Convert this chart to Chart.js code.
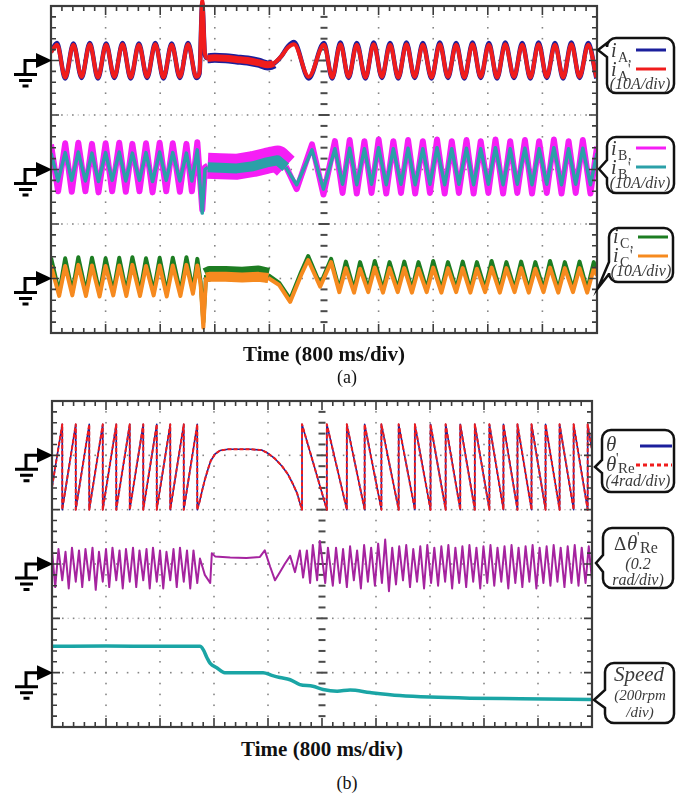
<!DOCTYPE html>
<html>
<head>
<meta charset="utf-8">
<script src="https://cdn.jsdelivr.net/npm/chart.js@4.4.1/dist/chart.umd.min.js"></script>
<style>
  body { margin: 0; background: #fff; width: 693px; height: 797px; position: relative; overflow: hidden; }
  canvas { position: absolute; left: 0; }
  .lbl { position: absolute; left: 0; text-align: center; white-space: nowrap; color: #111; font-family: "Liberation Serif", "Times New Roman", serif; }
</style>
</head>
<body>
<canvas id="scopeA" width="693" height="345" style="top:0"></canvas>
<canvas id="scopeB" width="693" height="345" style="top:390px"></canvas>
<div class="lbl" style="top:343px;width:648px;font-weight:bold;font-size:21px;line-height:22px">Time (800 ms/div)</div>
<div class="lbl" style="top:367px;width:694px;font-size:18px;line-height:20px">(a)</div>
<div class="lbl" style="top:738px;width:644px;font-weight:bold;font-size:21px;line-height:22px">Time (800 ms/div)</div>
<div class="lbl" style="top:773px;width:694px;font-size:18px;line-height:20px">(b)</div>
<script>
// time in divisions (800 ms/div)

// --- (a) phase A current, A ---
const tA = [0, 0.11, 0.26, 0.41, 0.56, 0.71, 0.86, 1.01, 1.16, 1.31, 1.46, 1.61, 1.76, 1.91, 2.06, 2.21, 2.36, 2.51, 2.66,
  2.72, 2.77, 2.82, 2.87, 3.0, 3.2, 3.4, 3.6, 3.8, 3.97, 4.08, 4.22, 4.34, 4.45, 4.72,
  5.00, 5.15, 5.30, 5.45, 5.60, 5.76, 5.91, 6.06, 6.21, 6.36, 6.51, 6.66, 6.81, 6.97, 7.12, 7.27, 7.42, 7.57,
  7.72, 7.87, 8.02, 8.17, 8.32, 8.48, 8.63, 8.78, 8.93, 9.08, 9.23, 9.38, 9.53, 9.68, 9.84, 9.99];
const iA = [1.6, 3.2, -3.3, 3.1, -3.2, 3.2, -3.3, 3.1, -3.2, 3.2, -3.3, 3.1, -3.2, 3.2, -3.3, 3.1, -3.2, 3.2, -3.2,
  -2.4, 10.5, 1.0, 0.4, 0.5, 0.4, 0.2, 0.0, -0.4, -0.9, -0.6, 0.8, 2.6, 3.4, -3.3,
  3.2, -3.3, 3.3, -3.2, 3.2, -3.3, 3.3, -3.2, 3.2, -3.3, 3.3, -3.2, 3.2, -3.3, 3.3, -3.2, 3.2, -3.3,
  3.3, -3.2, 3.2, -3.3, 3.3, -3.2, 3.2, -3.3, 3.3, -3.2, 3.2, -3.3, 3.3, -3.2, 3.2, -3.3];
const iA2 = [1.5, 2.9, -3.1, 2.9, -3.0, 3.0, -3.1, 2.9, -3.0, 3.0, -3.1, 2.9, -3.0, 3.0, -3.1, 2.9, -3.0, 3.0, -3.0,
  -2.2, 11, 1.2, 0.4, 0.5, 0.4, 0.2, 0.0, -0.4, -0.8, -0.5, 0.8, 2.4, 3.0, -3.0,
  2.9, -3.1, 3.0, -3.0, 2.9, -3.1, 3.0, -3.0, 2.9, -3.1, 3.0, -3.0, 2.9, -3.1, 3.0, -3.0, 2.9, -3.1,
  3.0, -3.0, 2.9, -3.1, 3.0, -3.0, 2.9, -3.1, 3.0, -3.0, 2.9, -3.1, 3.0, -3.0, 2.9, -3.1];

// --- (a) phase B current, A ---
const tB = [0, 0.13, 0.26, 0.38, 0.50, 0.63, 0.75, 0.87, 1.00, 1.12, 1.25, 1.37, 1.49, 1.62, 1.74, 1.86, 1.99, 2.11, 2.23, 2.36, 2.48, 2.58, 2.68,
  2.77, 2.82, 2.87, 3.1, 3.4, 3.7, 3.95, 4.15, 4.3, 4.5, 4.78, 4.99,
  5.20, 5.34, 5.47, 5.60, 5.74, 5.87, 6.00, 6.14, 6.27, 6.41, 6.54, 6.67, 6.81, 6.94, 7.07, 7.21, 7.34, 7.47,
  7.61, 7.74, 7.87, 8.01, 8.14, 8.28, 8.41, 8.54, 8.68, 8.81, 8.94, 9.08, 9.21, 9.35, 9.48, 9.61, 9.74, 9.88, 10.0];
const iB = [4.6, -4.0, 4.8, -4.1, 4.9, -4.0, 4.7, -4.2, 4.8, -4.0, 4.9, -4.1, 4.7, -4.0, 4.8, -4.2, 4.9, -4.0, 4.8, -4.1, 4.7, -4.0, 5.0,
  -7.4, 0.4, 0.7, 0.6, 0.5, 1.0, 1.6, 2.0, 0.6, -3.6, 4.6, -4.6,
  5.2, -4.3, 5.4, -4.4, 5.2, -4.3, 5.5, -4.4, 5.2, -4.3, 5.4, -4.4, 5.2, -4.3, 5.5, -4.4, 5.2, -4.3,
  5.4, -4.4, 5.2, -4.3, 5.5, -4.4, 5.2, -4.3, 5.4, -4.4, 5.2, -4.3, 5.5, -4.4, 5.2, -4.3, 5.4, -4.4, 4.2];
const iB2 = [3.0, -2.1, 3.1, -2.0, 3.2, -2.1, 3.0, -2.2, 3.1, -2.0, 3.2, -2.1, 3.0, -2.0, 3.1, -2.2, 3.2, -2.0, 3.1, -2.1, 3.0, -2.1, 3.6,
  -8.0, 0.0, 0.4, 0.3, 0.2, 0.6, 1.3, 1.7, 0.4, -2.8, 3.6, -3.6,
  3.8, -2.7, 3.9, -2.8, 3.8, -2.7, 4.0, -2.8, 3.8, -2.7, 3.9, -2.8, 3.8, -2.7, 4.0, -2.8, 3.8, -2.7,
  3.9, -2.8, 3.8, -2.7, 4.0, -2.8, 3.8, -2.7, 3.9, -2.8, 3.8, -2.7, 4.0, -2.8, 3.8, -2.7, 3.9, -2.8, 3.0];

// --- (a) phase C current, A ---
const tC = [0, 0.15, 0.26, 0.39, 0.50, 0.64, 0.75, 0.89, 1.00, 1.14, 1.25, 1.38, 1.49, 1.63, 1.74, 1.88, 1.99, 2.12, 2.23, 2.37, 2.48, 2.60, 2.68,
  2.74, 2.79, 2.84, 2.9, 3.2, 3.5, 3.8, 3.98, 4.18, 4.38, 4.58, 4.71, 4.93, 5.13,
  5.28, 5.40, 5.55, 5.66, 5.81, 5.93, 6.08, 6.20, 6.35, 6.47, 6.61, 6.73, 6.88, 7.00, 7.15, 7.27, 7.42, 7.54,
  7.68, 7.80, 7.95, 8.07, 8.22, 8.34, 8.49, 8.61, 8.75, 8.87, 9.02, 9.14, 9.29, 9.41, 9.56, 9.68, 9.82, 9.94, 10.0];
const iC = [3.8, -2.6, 3.7, -2.5, 3.9, -2.6, 3.8, -2.7, 3.7, -2.5, 3.8, -2.6, 3.9, -2.6, 3.7, -2.5, 3.8, -2.7, 3.8, -2.6, 3.9, -2.2, 3.6,
  -0.5, -8.0, 0.6, 0.9, 0.9, 0.8, 1.0, 0.6, -0.8, -3.8, 1.2, 4.1, -1.1, 3.6,
  -2.0, 3.1, -2.1, 3.0, -2.0, 3.2, -2.1, 3.0, -2.0, 3.1, -2.1, 3.0, -2.0, 3.2, -2.1, 3.0, -2.0, 3.1,
  -2.1, 3.0, -2.0, 3.2, -2.1, 3.0, -2.0, 3.1, -2.1, 3.0, -2.0, 3.2, -2.1, 3.0, -2.0, 3.1, -2.1, 3.0, 1.0];
const iC2 = [2.4, -3.2, 2.3, -3.1, 2.5, -3.2, 2.4, -3.3, 2.3, -3.1, 2.4, -3.2, 2.5, -3.2, 2.3, -3.1, 2.4, -3.3, 2.4, -3.2, 2.5, -2.8, 2.4,
  -1.0, -9.0, 0.2, 0.3, 0.3, 0.2, 0.3, 0.1, -1.2, -4.3, 0.6, 3.4, -1.5, 3.0,
  -2.5, 1.9, -2.6, 1.8, -2.5, 2.0, -2.6, 1.9, -2.5, 1.9, -2.6, 1.8, -2.5, 2.0, -2.6, 1.9, -2.5, 1.9,
  -2.6, 1.8, -2.5, 2.0, -2.6, 1.9, -2.5, 1.9, -2.6, 1.8, -2.5, 2.0, -2.6, 1.9, -2.5, 1.9, -2.6, 1.8, 0.5];

// --- (b) rotor angle, rad ---
const tTheta = [0, 0.19, 0.19, 0.44, 0.44, 0.69, 0.69, 0.94, 0.94, 1.19, 1.19, 1.44, 1.44, 1.69, 1.69, 1.94, 1.94, 2.19, 2.19, 2.44, 2.44, 2.69, 2.69,
  2.74, 2.78, 2.83, 2.89, 2.94, 3.02, 3.11, 3.26, 3.67, 3.89, 4.0, 4.13, 4.26, 4.37, 4.46, 4.54, 4.59, 4.63,
  4.63, 5.09, 5.09, 5.46, 5.46, 5.79, 5.79, 6.10, 6.10, 6.42, 6.42, 6.72, 6.72, 7.01, 7.01, 7.29, 7.29, 7.56, 7.56,
  7.83, 7.83, 8.10, 8.10, 8.36, 8.36, 8.62, 8.62, 8.88, 8.88, 9.14, 9.14, 9.40, 9.40, 9.66, 9.66, 9.92, 9.92, 10.0];
const theta = [1.66, 6.28, 0, 6.28, 0, 6.28, 0, 6.28, 0, 6.28, 0, 6.28, 0, 6.28, 0, 6.28, 0, 6.28, 0, 6.28, 0, 6.28, 0,
  0.7, 1.4, 2.2, 3.0, 3.6, 4.1, 4.35, 4.45, 4.45, 4.38, 4.15, 3.75, 3.2, 2.6, 1.9, 1.2, 0.5, 0,
  6.28, 0, 6.28, 0, 6.28, 0, 6.28, 0, 6.28, 0, 6.28, 0, 6.28, 0, 6.28, 0, 6.28, 0, 6.28,
  0, 6.28, 0, 6.28, 0, 6.28, 0, 6.28, 0, 6.28, 0, 6.28, 0, 6.28, 0, 6.28, 0, 6.28, 4.4];
const thetaRe = [1.66, 6.28, 0, 6.28, 0, 6.28, 0, 6.28, 0, 6.28, 0, 6.28, 0, 6.28, 0, 6.28, 0, 6.28, 0, 6.28, 0, 6.28, 0,
  0.7, 1.4, 2.2, 3.0, 3.6, 4.1, 4.35, 4.45, 4.45, 4.38, 4.15, 3.75, 3.2, 2.6, 1.9, 1.2, 0.5, 0,
  6.28, 0, 6.28, 0, 6.28, 0, 6.28, 0, 6.28, 0, 6.28, 0, 6.28, 0, 6.28, 0, 6.28, 0, 6.28,
  0, 6.28, 0, 6.28, 0, 6.28, 0, 6.28, 0, 6.28, 0, 6.28, 0, 6.28, 0, 6.28, 0, 6.28, 4.4];

// --- (b) angle error, rad ---
const tDelta = [0, 0.06, 0.12, 0.19, 0.25, 0.31, 0.37, 0.44, 0.50, 0.56, 0.62, 0.69, 0.75, 0.81, 0.87, 0.94, 1.00, 1.06, 1.12, 1.19,
  1.25, 1.31, 1.37, 1.44, 1.50, 1.56, 1.62, 1.69, 1.75, 1.81, 1.87, 1.94, 2.00, 2.06, 2.12, 2.19, 2.25, 2.31, 2.37, 2.44,
  2.50, 2.56, 2.62, 2.69,
  2.74, 2.83, 2.93, 2.96, 3.02, 3.3, 3.6, 3.85, 3.94, 4.04, 4.13, 4.22, 4.31, 4.41, 4.50, 4.59, 4.65, 4.72, 4.78, 4.83,
  4.91, 4.96, 5.06, 5.11, 5.20,
  5.26, 5.33, 5.39, 5.46, 5.52, 5.59, 5.65, 5.72, 5.78, 5.85, 5.91, 5.98, 6.04, 6.11, 6.17, 6.24, 6.30, 6.37, 6.43, 6.50,
  6.56, 6.63, 6.69, 6.76, 6.82, 6.89, 6.95, 7.02, 7.08, 7.15, 7.21, 7.28, 7.34, 7.41, 7.47, 7.54, 7.60, 7.67, 7.73, 7.80,
  7.86, 7.93, 7.99, 8.06, 8.12, 8.19, 8.25, 8.32, 8.38, 8.45, 8.51, 8.58, 8.64, 8.71, 8.77, 8.84, 8.90, 8.97, 9.03, 9.10,
  9.16, 9.23, 9.29, 9.36, 9.42, 9.49, 9.55, 9.62, 9.68, 9.75, 9.81, 9.88, 9.94, 10.0];
const dTheta = [0.05, -0.085, 0.055, -0.06, 0.045, -0.09, 0.06, -0.065, 0.05, -0.085, 0.055, -0.06, 0.06, -0.095, 0.045, -0.065,
  0.055, -0.085, 0.06, -0.06, 0.05, -0.09, 0.055, -0.065, 0.06, -0.085, 0.05, -0.06, 0.055, -0.09, 0.06, -0.065,
  0.05, -0.09, 0.045, -0.06, 0.055, -0.085, 0.06, -0.065, 0.05, -0.09, 0.05, -0.07,
  0.02, -0.04, -0.07, 0.04, 0.028, 0.024, 0.022, 0.026, 0.05, -0.01, -0.06, -0.03, 0.0, 0.03, -0.03, 0.05, -0.05, 0.05, -0.07, 0.07,
  -0.06, 0.085, -0.07, 0.06, -0.08,
  0.06, -0.07, 0.055, -0.085, 0.065, -0.06, 0.05, -0.09, 0.07, -0.065, 0.06, -0.08, 0.075, -0.07, 0.09, -0.1, 0.06, -0.075, 0.065, -0.06,
  0.07, -0.085, 0.055, -0.065, 0.065, -0.09, 0.07, -0.07, 0.06, -0.08, 0.065, -0.065, 0.07, -0.09, 0.06, -0.07, 0.065, -0.085, 0.07, -0.065,
  0.06, -0.09, 0.065, -0.07, 0.07, -0.08, 0.06, -0.065, 0.065, -0.09, 0.07, -0.07, 0.06, -0.085, 0.065, -0.065, 0.07, -0.09, 0.06, -0.07,
  0.065, -0.08, 0.07, -0.065, 0.06, -0.085, 0.065, -0.07, 0.07, -0.08, 0.06, -0.07, 0.065, -0.06];

// --- (b) speed, rpm ---
const tSpeed = [0, 1.0, 2.0, 2.74, 2.80, 2.87, 2.93, 3.05, 3.2, 3.91, 4.07, 4.22, 4.41, 4.59, 4.83, 5.02, 5.28, 5.52, 5.89, 6.44, 7.0, 7.74, 8.67, 10.0];
const speed = [297, 298, 297, 297, 285, 255, 234, 218, 200, 200, 190, 182, 174, 156, 150, 138, 132, 136, 127, 116, 110, 106, 104, 101];

const SERIF = '"Liberation Serif", "Times New Roman", serif';
const NAVY = '#1b1f9c', RED = '#f01c1c', MAGENTA = '#f51ef5', TEAL = '#2ba0a8';
const GREEN = '#1d7d22', ORANGE = '#f68a1f', PURPLE = '#a5239f', CYAN = '#1aa5a5';

const pts = (ts, vs) => ts.map((t, i) => ({x: t, y: vs[i]}));
const wideIn = (t0, t1, w) => c => (c.p0.parsed.x >= t0 && c.p1.parsed.x <= t1) ? w : undefined;

function trace(label, ts, vs, axis, color, width, order, extra) {
  return Object.assign({
    label, data: pts(ts, vs), yAxisID: axis, borderColor: color, borderWidth: width,
    pointRadius: 0, order, borderJoinStyle: 'round', fill: false
  }, extra || {});
}

function txt(ctx, s, x, y, size, style, align) {
  ctx.font = (style || '') + ' ' + size + 'px ' + SERIF;
  ctx.textAlign = align || 'left';
  ctx.fillText(s, x, y);
}

function callout(ctx, b) {
  const r = 9;
  ctx.beginPath();
  ctx.moveTo(b.x0 + r, b.y0);
  ctx.lineTo(b.x1 - r, b.y0);
  ctx.arcTo(b.x1, b.y0, b.x1, b.y0 + r, r);
  ctx.lineTo(b.x1, b.y1 - r);
  ctx.arcTo(b.x1, b.y1, b.x1 - r, b.y1, r);
  ctx.lineTo(b.x0 + r, b.y1);
  ctx.arcTo(b.x0, b.y1, b.x0, b.y1 - r, r);
  ctx.lineTo(b.x0, b.a1);
  ctx.lineTo(b.tx, b.ty);
  ctx.lineTo(b.x0, b.a0);
  ctx.lineTo(b.x0, b.y0 + r);
  ctx.arcTo(b.x0, b.y0, b.x0 + r, b.y0, r);
  ctx.closePath();
  ctx.fillStyle = '#fff';
  ctx.fill();
  ctx.lineWidth = 2.5;
  ctx.strokeStyle = '#111';
  ctx.setLineDash([]);
  ctx.stroke();
}

function sample(ctx, x0, x1, y, color, dash) {
  ctx.save();
  ctx.strokeStyle = color;
  ctx.lineWidth = 3;
  ctx.setLineDash(dash || []);
  ctx.beginPath();
  ctx.moveTo(x0, y);
  ctx.lineTo(x1, y);
  ctx.stroke();
  ctx.restore();
}

// "i" with subscript, and a colour sample
function currentRow(ctx, x, base, sub, mark, lineY, color) {
  ctx.fillStyle = '#3a3a3a';
  txt(ctx, 'i', x, base, 20, 'italic');
  txt(ctx, sub, x + 7, base + 5, 14);
  if (mark === ',') txt(ctx, ',', x + 17, base + 5, 14);
  else txt(ctx, "'", x + 17, base - 2, 14);
  sample(ctx, x + 25, x + 55, lineY, color);
}

function ground(ctx, xL, yc) {
  ctx.save();
  ctx.fillStyle = '#000';
  ctx.strokeStyle = '#000';
  ctx.beginPath();
  ctx.moveTo(xL + 1, yc);
  ctx.lineTo(xL - 15, yc - 7.5);
  ctx.lineTo(xL - 15, yc + 7.5);
  ctx.closePath();
  ctx.fill();
  ctx.lineWidth = 3;
  ctx.beginPath();
  ctx.moveTo(xL - 14, yc);
  ctx.lineTo(xL - 26, yc);
  ctx.lineTo(xL - 26, yc + 14);
  ctx.stroke();
  ctx.beginPath();
  ctx.moveTo(xL - 37, yc + 14); ctx.lineTo(xL - 14, yc + 14);
  ctx.moveTo(xL - 32, yc + 20); ctx.lineTo(xL - 19, yc + 20);
  ctx.moveTo(xL - 28.5, yc + 25.5); ctx.lineTo(xL - 22.5, yc + 25.5);
  ctx.stroke();
  ctx.restore();
}

// scope screen: dotted graticule, frame ticks, ground markers, callouts
function scopePlugin(drawLegend) {
  return {
    id: 'scope',
    beforeDatasetsDraw(chart) {
      const {ctx, chartArea: a} = chart;
      const xs = chart.scales.x;
      const w = a.right - a.left, h = a.bottom - a.top;
      const mx = w / 50, my = h / 30;
      ctx.save();
      ctx.fillStyle = '#858585';
      for (let k = 1; k < 10; k++) {
        if (k === 5) continue;
        const x = xs.getPixelForValue(k);
        for (let j = 1; j < 30; j++) ctx.fillRect(x - 0.8, a.top + j * my - 0.8, 1.6, 1.6);
      }
      for (let k = 1; k < 6; k++) {
        const y = a.top + k * h / 6;
        for (let j = 1; j < 50; j++) ctx.fillRect(a.left + j * mx - 0.8, y - 0.8, 1.6, 1.6);
        if (k % 2 === 0) {
          ctx.fillStyle = '#b5b5b5';
          for (let j = 0; j < 50; j++) ctx.fillRect(a.left + (j + 0.5) * mx - 0.6, y - 0.6, 1.2, 1.2);
          ctx.fillStyle = '#858585';
        }
      }
      const xc = xs.getPixelForValue(5);
      ctx.fillStyle = '#4a4a4a';
      for (let j = 1; j < 30; j++) {
        const len = j % 5 === 0 ? 11 : 7;
        ctx.fillRect(xc - len / 2, a.top + j * my - 1, len, 2);
      }
      ctx.restore();
    },
    afterDatasetsDraw(chart) {
      const {ctx, chartArea: a} = chart;
      const w = a.right - a.left, h = a.bottom - a.top;
      ctx.save();
      ctx.strokeStyle = '#3c3c3c';
      ctx.lineWidth = 1.6;
      ctx.beginPath();
      for (let j = 1; j < 50; j++) {
        const x = a.left + j * w / 50, L = j % 5 ? 5 : 9;
        ctx.moveTo(x, a.top); ctx.lineTo(x, a.top + L);
        ctx.moveTo(x, a.bottom); ctx.lineTo(x, a.bottom - L);
      }
      for (let j = 1; j < 30; j++) {
        const y = a.top + j * h / 30, L = j % 5 ? 5 : 8;
        ctx.moveTo(a.left, y); ctx.lineTo(a.left + L, y);
        ctx.moveTo(a.right, y); ctx.lineTo(a.right - L, y);
      }
      ctx.stroke();
      ctx.lineWidth = 2.2;
      ctx.strokeRect(a.left, a.top, w, h);
      ctx.restore();
    },
    afterDraw(chart) {
      const {ctx, chartArea: a} = chart;
      const h = a.bottom - a.top;
      for (let k = 0; k < 3; k++) ground(ctx, a.left, a.top + (2 * k + 1) * h / 6);
      ctx.save();
      drawLegend(ctx);
      ctx.restore();
    }
  };
}

function legendA(ctx) {
  callout(ctx, {x0: 607, y0: 38, x1: 674, y1: 93, a0: 43, a1: 57, tx: 598, ty: 50});
  currentRow(ctx, 611, 57, 'A', ',', 50, NAVY);
  currentRow(ctx, 611, 76, 'A', "'", 69, RED);
  ctx.fillStyle = '#3a3a3a';
  txt(ctx, '(10A/div)', 640, 89, 16, 'italic', 'center');

  callout(ctx, {x0: 607, y0: 137, x1: 674, y1: 193, a0: 160, a1: 178, tx: 599, ty: 169});
  currentRow(ctx, 611, 155, 'B', ',', 148, MAGENTA);
  currentRow(ctx, 611, 174, 'B', "'", 167, TEAL);
  ctx.fillStyle = '#3a3a3a';
  txt(ctx, '(10A/div)', 640, 188, 16, 'italic', 'center');

  callout(ctx, {x0: 609, y0: 228, x1: 673, y1: 282, a0: 262, a1: 274, tx: 598, ty: 288});
  currentRow(ctx, 613, 243, 'C', ',', 237, GREEN);
  currentRow(ctx, 613, 262, 'C', "'", 256, ORANGE);
  ctx.fillStyle = '#3a3a3a';
  txt(ctx, '(10A/div)', 641, 276, 16, 'italic', 'center');
}

function legendB(ctx) {
  // canvas B sits 390 px down the page
  callout(ctx, {x0: 602, y0: 40, x1: 674, y1: 102, a0: 70, a1: 83, tx: 595, ty: 77});
  ctx.fillStyle = '#3a3a3a';
  txt(ctx, 'θ', 606, 61, 21, 'italic');
  sample(ctx, 640, 672, 56, NAVY);
  ctx.fillStyle = '#3a3a3a';
  txt(ctx, 'θ', 606, 81, 21, 'italic');
  txt(ctx, "'", 616, 73, 14);
  txt(ctx, 'Re', 618, 83, 15);
  sample(ctx, 636, 672, 75, RED, [4, 3]);
  ctx.fillStyle = '#3a3a3a';
  txt(ctx, '(4rad/div)', 638, 96, 16, 'italic', 'center');

  callout(ctx, {x0: 603, y0: 138, x1: 673, y1: 198, a0: 165, a1: 182, tx: 596, ty: 173});
  ctx.fillStyle = '#3a3a3a';
  txt(ctx, 'Δ', 614, 160, 19);
  txt(ctx, 'θ', 627, 160, 21, 'italic');
  txt(ctx, "'", 637, 152, 14);
  txt(ctx, 'Re', 640, 163, 16);
  txt(ctx, '(0.2', 638, 179, 16, 'italic', 'center');
  txt(ctx, 'rad/div)', 638, 195, 16, 'italic', 'center');

  callout(ctx, {x0: 605, y0: 273, x1: 674, y1: 333, a0: 300, a1: 318, tx: 594, ty: 310});
  ctx.fillStyle = '#3a3a3a';
  txt(ctx, 'Speed', 639, 291, 21, 'italic', 'center');
  txt(ctx, '(200rpm', 640, 310, 15, 'italic', 'center');
  txt(ctx, '/div)', 640, 327, 15, 'italic', 'center');
}

const common = {
  responsive: false,
  animation: false,
  events: [],
  plugins: {legend: {display: false}, tooltip: {enabled: false}},
  elements: {point: {radius: 0}}
};

new Chart(document.getElementById('scopeA'), {
  type: 'line',
  data: {
    datasets: [
      trace('iA', tA, iA, 'yA', NAVY, 4.5, 2, {cubicInterpolationMode: 'monotone',
        segment: {borderWidth: wideIn(2.86, 4.09, 10)}, clip: {left: 0, top: 8, right: 0, bottom: 0}}),
      trace("iA'", tA, iA2, 'yA', RED, 4, 1, {cubicInterpolationMode: 'monotone',
        segment: {borderWidth: wideIn(2.86, 4.09, 7)}, clip: {left: 0, top: 8, right: 0, bottom: 0}}),
      trace('iB', tB, iB, 'yB', MAGENTA, 6, 4, {segment: {borderWidth: wideIn(2.85, 4.31, 26)}}),
      trace("iB'", tB, iB2, 'yB', TEAL, 3.5, 3, {segment: {borderWidth: wideIn(2.85, 4.31, 10)}}),
      trace('iC', tC, iC, 'yC', GREEN, 4, 6, {segment: {borderWidth: wideIn(2.83, 3.99, 15)}}),
      trace("iC'", tC, iC2, 'yC', ORANGE, 4, 5, {segment: {borderWidth: wideIn(2.83, 3.99, 10)}})
    ]
  },
  options: Object.assign({}, common, {
    layout: {padding: {left: 51, top: 6, right: 96, bottom: 12}},
    scales: {
      x: {type: 'linear', min: 0, max: 10, display: false},
      yA: {type: 'linear', min: -50, max: 10, display: false},
      yB: {type: 'linear', min: -30, max: 30, display: false},
      yC: {type: 'linear', min: -10, max: 50, display: false}
    }
  }),
  plugins: [scopePlugin(legendA)]
});

new Chart(document.getElementById('scopeB'), {
  type: 'line',
  data: {
    datasets: [
      trace('θ', tTheta, theta, 'yT', NAVY, 1.6, 2),
      trace("θ'Re", tTheta, thetaRe, 'yT', RED, 2, 1, {borderDash: [4, 2]}),
      trace("Δθ'Re", tDelta, dTheta, 'yD', PURPLE, 2, 3),
      trace('Speed', tSpeed, speed, 'yS', CYAN, 3.5, 4, {cubicInterpolationMode: 'monotone'})
    ]
  },
  options: Object.assign({}, common, {
    layout: {padding: {left: 52, top: 11, right: 101, bottom: 8}},
    scales: {
      x: {type: 'linear', min: 0, max: 10, display: false},
      yT: {type: 'linear', min: -16, max: 8, display: false},
      yD: {type: 'linear', min: -0.6, max: 0.6, display: false},
      yS: {type: 'linear', min: 0, max: 1200, display: false}
    }
  }),
  plugins: [scopePlugin(legendB)]
});
</script>
</body>
</html>
